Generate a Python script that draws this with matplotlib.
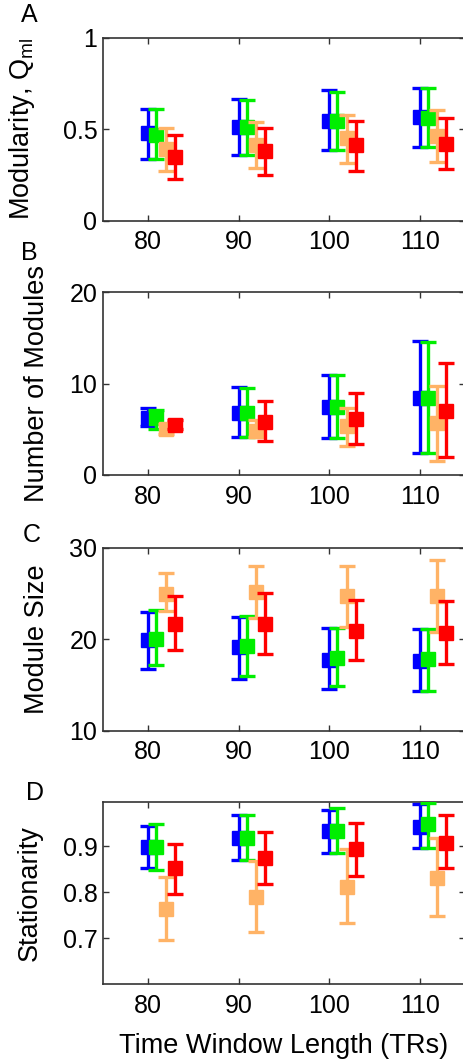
import matplotlib
matplotlib.use("Agg")
import matplotlib.pyplot as plt
import numpy as np

plt.rcParams['font.family'] = ['Liberation Sans', 'DejaVu Sans']
plt.rcParams['mathtext.default'] = 'regular'

windows = [80, 90, 100, 110]
colors = ['#0000FF', '#00EE00', '#FFB366', '#FF0000']

# Panel A: Modularity
A_mean = [[0.481, 0.510, 0.543, 0.568],
          [0.466, 0.510, 0.543, 0.561],
          [0.390, 0.415, 0.450, 0.463],
          [0.346, 0.383, 0.412, 0.421]]
A_lo = [[0.339, 0.357, 0.386, 0.404],
        [0.339, 0.357, 0.386, 0.404],
        [0.273, 0.290, 0.315, 0.322],
        [0.230, 0.251, 0.273, 0.282]]
A_hi = [[0.612, 0.663, 0.712, 0.725],
        [0.612, 0.661, 0.701, 0.725],
        [0.506, 0.537, 0.579, 0.603],
        [0.470, 0.506, 0.545, 0.561]]

# Panel B: Number of Modules
B_mean = [[6.28, 6.79, 7.48, 8.47],
          [6.20, 6.79, 7.48, 8.47],
          [5.04, 4.82, 5.40, 5.66],
          [5.47, 5.77, 6.09, 7.00]]
B_lo = [[5.40, 4.20, 4.01, 2.45],
        [5.07, 4.20, 4.01, 2.37],
        [4.53, 4.20, 3.18, 1.57],
        [5.00, 3.69, 3.39, 1.93]]
B_hi = [[7.37, 9.67, 10.95, 14.67],
        [7.15, 9.49, 10.95, 14.60],
        [5.58, 6.02, 7.37, 9.78],
        [6.02, 8.14, 8.98, 12.23]]

# Panel C: Module Size
C_mean = [[19.90, 19.10, 17.76, 17.66],
          [20.07, 19.30, 17.98, 17.83],
          [24.99, 25.20, 24.74, 24.74],
          [21.70, 21.70, 20.87, 20.73]]
C_lo = [[16.78, 15.68, 14.52, 14.34],
        [17.14, 16.00, 14.88, 14.34],
        [23.10, 22.35, 21.37, 20.75],
        [18.78, 18.40, 17.69, 17.32]]
C_hi = [[22.93, 22.46, 21.26, 21.10],
        [23.15, 22.57, 21.26, 21.10],
        [27.20, 27.98, 27.98, 28.65],
        [24.70, 25.08, 24.24, 24.13]]

# Panel D: Stationarity
D_mean = [[0.899, 0.919, 0.933, 0.943],
          [0.899, 0.917, 0.933, 0.948],
          [0.763, 0.789, 0.812, 0.832],
          [0.852, 0.875, 0.894, 0.908]]
D_lo = [[0.852, 0.870, 0.885, 0.897],
        [0.849, 0.870, 0.885, 0.897],
        [0.696, 0.714, 0.734, 0.748],
        [0.796, 0.818, 0.836, 0.853]]
D_hi = [[0.944, 0.968, 0.980, 0.991],
        [0.949, 0.968, 0.984, 0.994],
        [0.834, 0.867, 0.895, 0.917],
        [0.906, 0.932, 0.951, 0.968]]

panel_letters = ['A', 'B', 'C', 'D']
ylabels = ['Modularity, Q$_{ml}$', 'Number of Modules', 'Module Size', 'Stationarity']
ylims = [(0, 1), (0, 20), (10, 30), (0.6, 0.997)]
yticks = [[0, 0.5, 1], [0, 10, 20], [10, 20, 30], [0.7, 0.8, 0.9]]
yticklabels = [['0', '0.5', '1'], ['0', '10', '20'], ['10', '20', '30'], ['0.7', '0.8', '0.9']]
xlabel = 'Time Window Length (TRs)'

offsets = [0.0, 0.9, 1.95, 2.95]

W, H = 463, 1059
fig = plt.figure(figsize=(W / 100, H / 100), dpi=100)

axes_px = [(37.7, 220.7), (292.3, 475.0), (547.7, 730.7), (801.7, 984.3)]
left_px, right_px = 103, 465
ylabel_x = [-0.182, -0.146, -0.146, -0.166]
letter_pos = [(29, 15), (29, 253), (32, 535), (35, 793)]
FS = 18
LFS = 19.5

data = [(A_mean, A_lo, A_hi), (B_mean, B_lo, B_hi),
        (C_mean, C_lo, C_hi), (D_mean, D_lo, D_hi)]

for i, ((top, bot), (means, los, his)) in enumerate(zip(axes_px, data)):
    ax = fig.add_axes([left_px / W, 1 - bot / H, (right_px - left_px) / W, (bot - top) / H])
    for s in range(4):
        x = np.array(windows) + offsets[s]
        m = np.array(means[s])
        lo = np.array(los[s])
        hi = np.array(his[s])
        ax.errorbar(x, m, yerr=[m - lo, hi - m], fmt='s', color=colors[s],
                    ms=9.5, mec=colors[s], mfc=colors[s], capsize=6,
                    elinewidth=2.4, capthick=2.4, zorder=3 + s)
    ax.set_xlim(75, 115)
    ax.set_ylim(*ylims[i])
    ax.set_xticks(windows)
    ax.set_xticklabels([str(w) for w in windows])
    ax.set_yticks(yticks[i])
    ax.set_yticklabels(yticklabels[i])
    ax.tick_params(direction='in', length=4, width=1, top=True, right=True,
                   labelsize=FS, colors='#333333', labelcolor='black')
    ax.tick_params(axis='x', pad=7)
    ax.tick_params(axis='y', pad=4)
    for sp in ax.spines.values():
        sp.set_color('#333333')
        sp.set_linewidth(1.2)
    ax.set_ylabel(ylabels[i], fontsize=LFS)
    ax.yaxis.set_label_coords(ylabel_x[i], 0.5)
    if i == 3:
        ax.set_xlabel(xlabel, fontsize=LFS, labelpad=11)
    lx, ly = letter_pos[i]
    fig.text(lx / W, 1 - ly / H, panel_letters[i], fontsize=FS, ha='center', va='center')

fig.savefig('out.png', dpi=100)
